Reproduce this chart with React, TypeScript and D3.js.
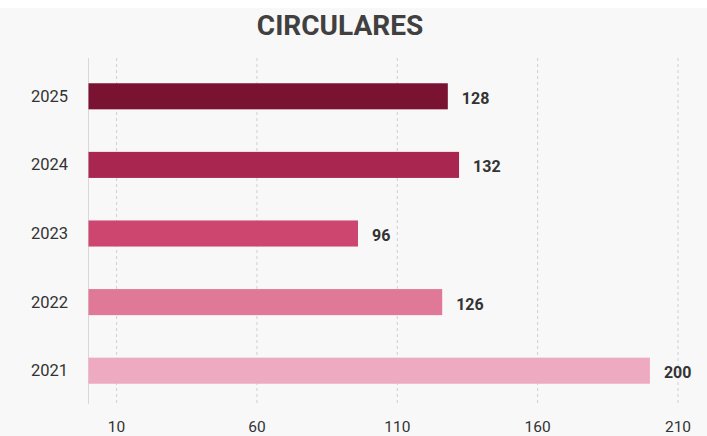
import React from "react";
import * as d3 from "d3";

const years = ["2025", "2024", "2023", "2022", "2021"];
const values = [128, 132, 96, 126, 200];
const barColors = ["#7a1232", "#a8264f", "#cc4670", "#e07898", "#eeaac0"];
const tickValues = [10, 60, 110, 160, 210];
const title = "CIRCULARES";

const W = 707;
const H = 436;

export default function App() {
  const x = d3.scaleLinear().domain([0, 210]).range([88.5, 678]);
  const y = d3.scaleBand().domain(years).range([62, 405]).paddingInner(0.62).paddingOuter(0.31);
  const gridTop = 58;
  const gridBottom = 404;
  return (
    <svg
      width={W}
      height={H}
      style={{ position: "fixed", left: 0, top: 0, display: "block" }}
      fontFamily="Roboto, 'Noto Sans', sans-serif"
    >
      <rect x={0} y={0} width={W} height={H} fill="#f8f8f8" />
      <rect x={0} y={0} width={W} height={8} fill="#ffffff" />
      <text x={340} y={35} textAnchor="middle" fontSize={28} fontWeight={700} fill="#404040">
        {title}
      </text>
      <line x1={x(0)} x2={x(0)} y1={gridTop} y2={gridBottom} stroke="#d8d8d8" strokeWidth={1} />
      {tickValues.map((t) => (
        <g key={t}>
          <line
            x1={x(t)}
            x2={x(t)}
            y1={gridTop}
            y2={gridBottom}
            stroke="#cfcfcf"
            strokeWidth={1}
            strokeDasharray="3,3"
          />
          <text x={x(t)} y={432} textAnchor="middle" fontSize={15.5} fill="#333">
            {t}
          </text>
        </g>
      ))}
      {years.map((yr, i) => {
        const y0 = y(yr) as number;
        const bw = y.bandwidth();
        return (
          <g key={yr}>
            <text x={68} y={y0 + bw / 2} textAnchor="end" dominantBaseline="central" fontSize={16.5} fill="#333">
              {yr}
            </text>
            <rect x={x(0)} y={y0} width={x(values[i]) - x(0)} height={bw} fill={barColors[i]} />
            <text
              x={x(values[i]) + 14}
              y={y0 + bw / 2 + 2}
              dominantBaseline="central"
              fontSize={16}
              fontWeight={700}
              fill="#333"
            >
              {values[i]}
            </text>
          </g>
        );
      })}
    </svg>
  );
}
